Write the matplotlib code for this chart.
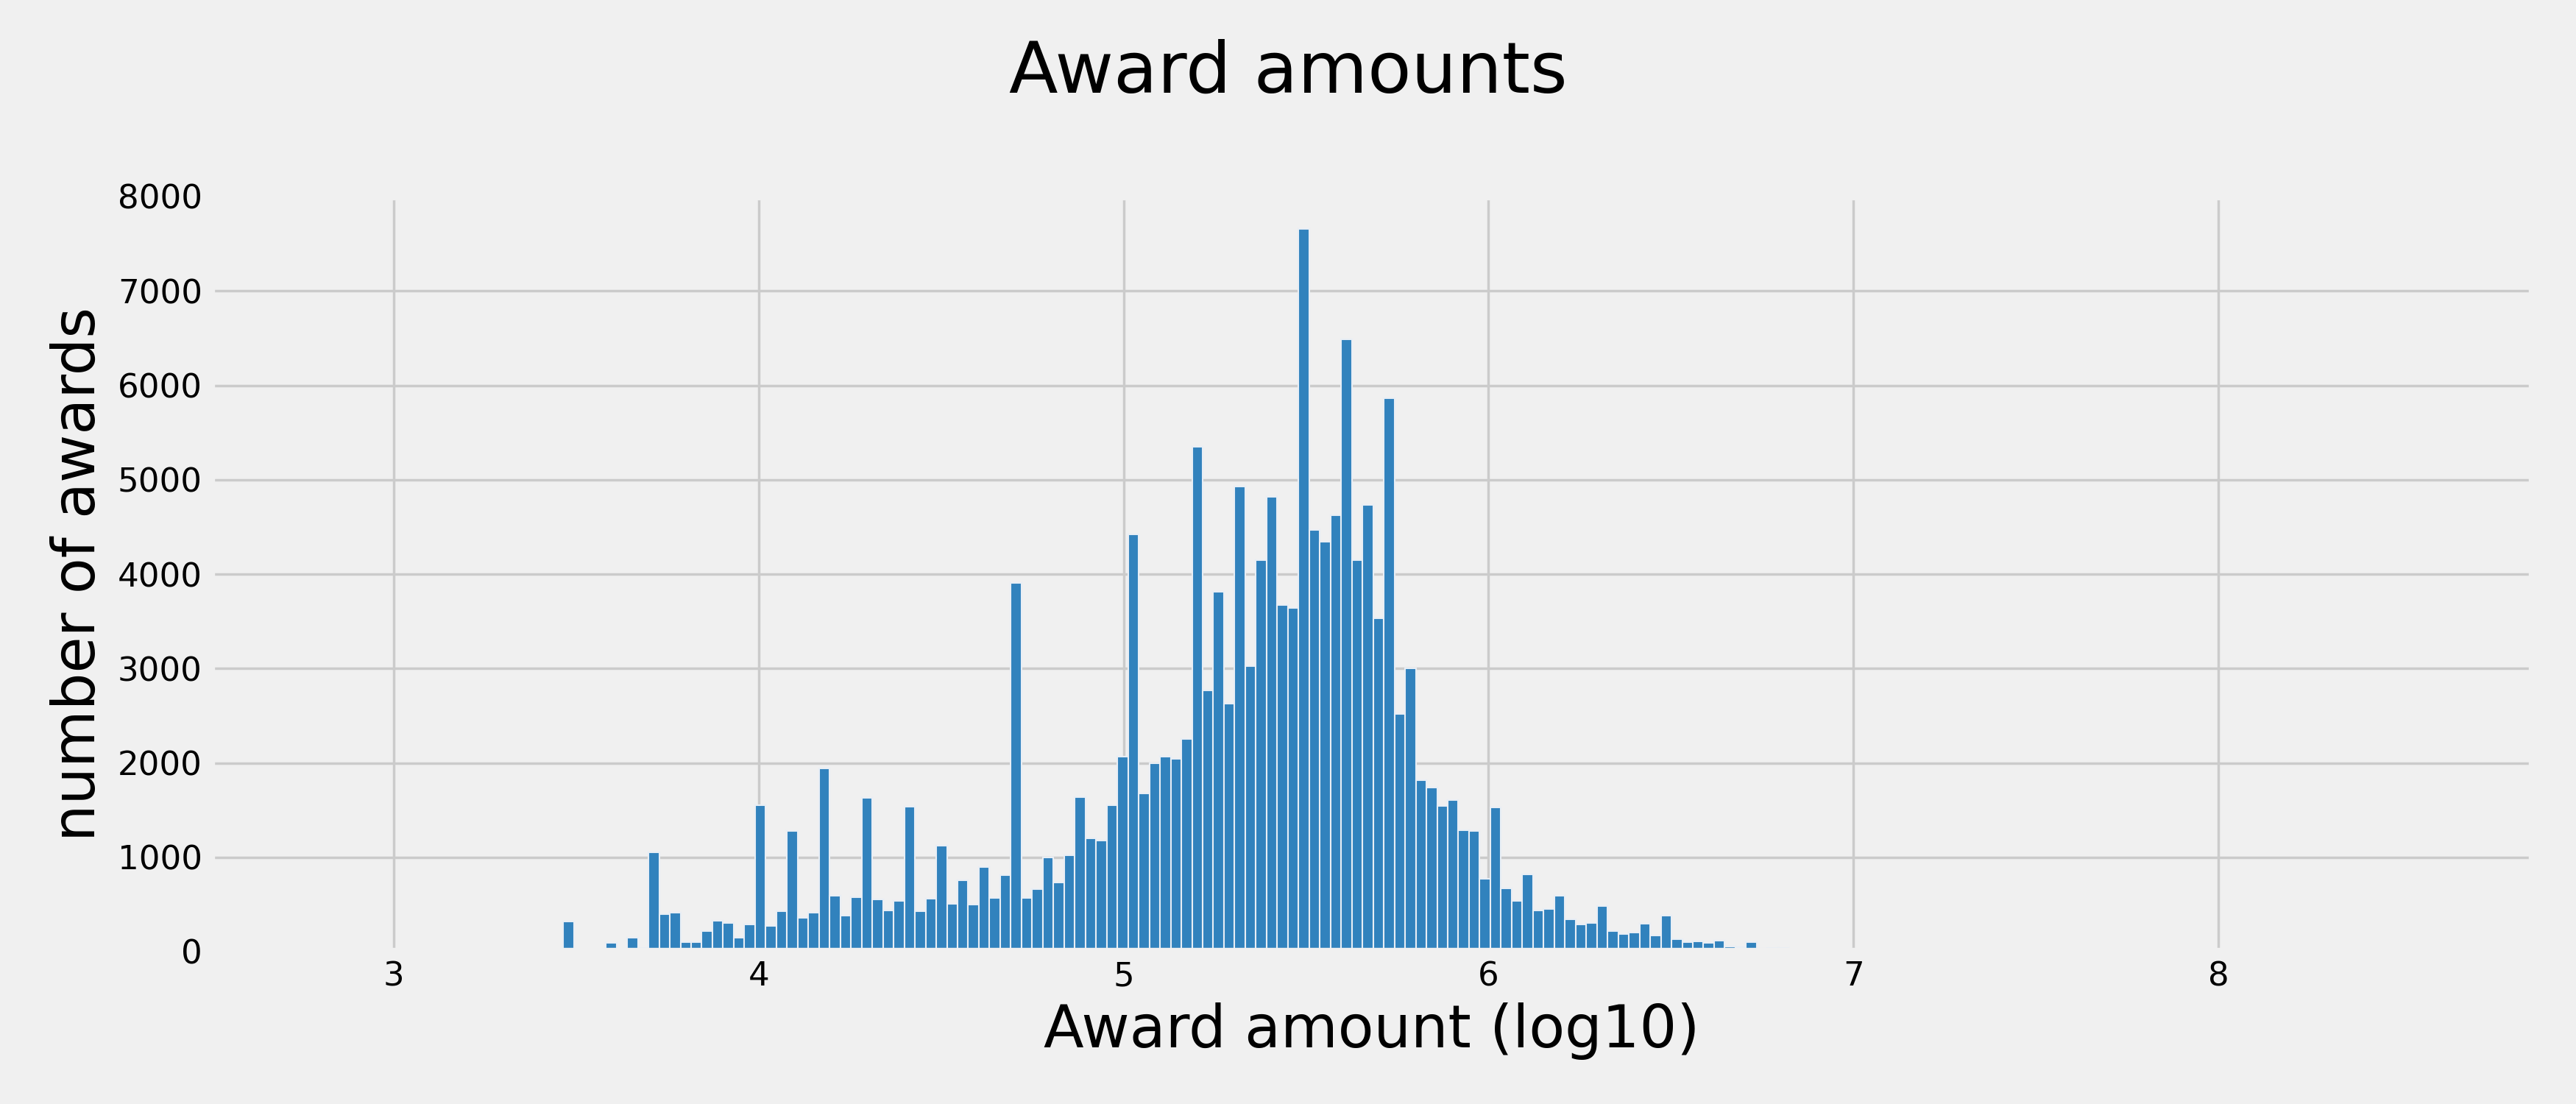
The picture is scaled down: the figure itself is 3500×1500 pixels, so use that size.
import numpy as np
import matplotlib.pyplot as plt

# bar heights, left to right
counts = [320, 0, 0, 0, 90, 5, 145, 40, 1050, 395, 415, 105, 105, 215, 330, 305, 150, 290,
          1550, 275, 425, 1280, 355, 410, 1945, 595, 380, 580, 1630,
          555, 440, 540, 1535, 425, 560, 1125, 510, 755, 500, 900, 570, 810, 3910, 570, 665,
          1000, 735, 1020, 1635, 1200, 1175, 1555, 2070, 4420, 1680, 2000, 2065, 2040, 2250,
          5350, 2770, 3815, 2625, 4925, 3025, 4145, 4820, 3675, 3640, 7660, 4465, 4345, 4620,
          6485, 4150, 4730, 3530, 5860, 2520, 3000, 1820, 1735, 1540, 1610, 1290, 1275, 770,
          1525, 670, 540, 820,
          440, 455, 595, 345, 285, 305, 485, 220, 190, 200, 300, 175, 385, 135, 105, 110, 95,
          120, 55, 50, 105, 35, 40, 40, 2, 0, 2]
first_edge = 3.4646
bin_width = 0.0292
x_ticks = [3, 4, 5, 6, 7, 8]
y_ticks = [0, 1000, 2000, 3000, 4000, 5000, 6000, 7000, 8000]

plt.style.use("fivethirtyeight")
fig = plt.figure(figsize=(14, 6), dpi=250)
ax = fig.add_axes([0.082, 0.138, 0.901, 0.684])

edges = first_edge + bin_width * np.arange(len(counts) + 1)
ax.hist(edges[:-1], bins=edges, weights=counts, color="#3182bd",
        edgecolor="#e8eef5", linewidth=0.6)

ax.set_xlim(2.5, 8.86)
ax.set_ylim(0, 8000)
ax.set_xticks(x_ticks)
ax.set_yticks(y_ticks)
ax.tick_params(labelsize=13)
ax.set_xlabel("Award amount (log10)", fontsize=23)
ax.set_ylabel("number of awards", fontsize=23)
fig.suptitle("Award amounts", fontsize=28, y=0.965)

fig.savefig("out.png", dpi=250, facecolor=fig.get_facecolor())
